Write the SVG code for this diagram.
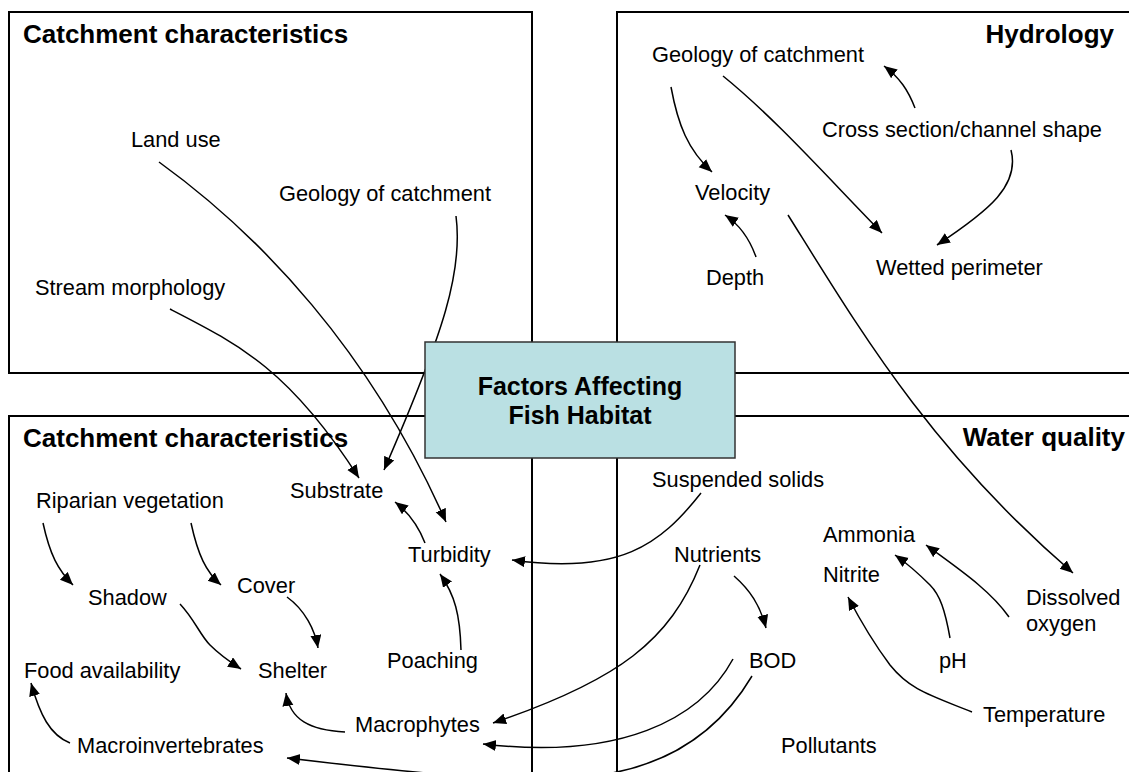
<svg xmlns="http://www.w3.org/2000/svg" width="1129" height="772" viewBox="0 0 1129 772">
<defs>
<marker id="ah" markerUnits="userSpaceOnUse" markerWidth="14" markerHeight="12" refX="13" refY="5.5" orient="auto">
<path d="M0,0 L13,5.5 L0,11 z" fill="#000"/>
</marker>
<style>
.box{fill:#fff;stroke:#000;stroke-width:2}
.hub{fill:#bae0e3;stroke:#333;stroke-width:1.5}
.t{font-family:"Liberation Sans",Arial,sans-serif;font-size:21.8px;fill:#000}
.b{font-family:"Liberation Sans",Arial,sans-serif;font-size:26px;font-weight:bold;fill:#000}
.hb{font-family:"Liberation Sans",Arial,sans-serif;font-size:25px;font-weight:bold;fill:#000;text-anchor:middle}
.c path{fill:none;stroke:#000;stroke-width:1.5;marker-end:url(#ah)}
</style>
</defs>
<rect width="1129" height="772" fill="#fff"/>
<g id="panel-catchment-top">
<rect class="box" x="9" y="12" width="523" height="361"/>
<text class="b" x="23" y="43">Catchment characteristics</text>
</g>
<g id="panel-hydrology">
<rect class="box" x="617" y="12" width="530" height="361"/>
<text class="b" x="1114" y="43" text-anchor="end">Hydrology</text>
</g>
<g id="panel-catchment-bottom">
<rect class="box" x="9" y="416" width="523" height="380"/>
<text class="b" x="23" y="447">Catchment characteristics</text>
</g>
<g id="panel-water-quality">
<rect class="box" x="617" y="416" width="530" height="380"/>
<text class="b" x="1125" y="446" text-anchor="end">Water quality</text>
</g>
<g id="connectors" class="c">
<path d="M159,162 C260,235 370,350 446,522"/>
<path d="M456,216 C463,270 445,330 384,470"/>
<path d="M170,309 C240,345 290,370 359,478"/>
<path d="M671,87 C678,125 688,150 712,172"/>
<path d="M723,76 C775,118 830,180 882,233"/>
<path d="M915,108 C908,90 900,78 884,66"/>
<path d="M1011,150 C1020,185 990,210 937,245"/>
<path d="M756,257 C750,240 740,225 725,215"/>
<path d="M788,215 C860,330 930,450 1073,573"/>
<path d="M425,543 C418,525 408,512 395,502"/>
<path d="M461,650 C460,615 455,595 440,574"/>
<path d="M701,493 C660,545 620,575 512,560"/>
<path d="M43,523 C50,555 58,570 73,585"/>
<path d="M191,523 C198,555 206,572 221,585"/>
<path d="M287,597 C305,610 315,630 318,648"/>
<path d="M180,604 C195,620 200,635 210,645 C220,655 230,662 241,669"/>
<path d="M345,732 C310,730 290,720 286,693"/>
<path d="M70,743 C50,735 40,715 31,683"/>
<path d="M700,565 C670,640 620,680 493,723"/>
<path d="M733,659 C700,720 620,760 483,744"/>
<path d="M752,676 C720,730 670,765 600,775 C530,785 430,775 287,758"/>
<path d="M734,576 C750,590 760,605 766,628"/>
<path d="M950,638 C945,610 940,595 930,585 C915,570 905,562 895,555"/>
<path d="M1009,617 C990,590 960,570 926,545"/>
<path d="M972,712 C930,695 910,690 890,665 C875,645 860,620 848,597"/>
</g>
<g id="hub">
<rect class="hub" x="425" y="342" width="310" height="116"/>
<text class="hb" x="580" y="395">Factors Affecting</text>
<text class="hb" x="580" y="424">Fish Habitat</text>
</g>
<g id="n-land-use"><text class="t" x="131" y="147">Land use</text></g>
<g id="n-geology-tl"><text class="t" x="279" y="201">Geology of catchment</text></g>
<g id="n-stream-morphology"><text class="t" x="35" y="295">Stream morphology</text></g>
<g id="n-geology-tr"><text class="t" x="652" y="62">Geology of catchment</text></g>
<g id="n-cross-section"><text class="t" x="822" y="137">Cross section/channel shape</text></g>
<g id="n-velocity"><text class="t" x="695" y="200">Velocity</text></g>
<g id="n-depth"><text class="t" x="706" y="285">Depth</text></g>
<g id="n-wetted-perimeter"><text class="t" x="876" y="275">Wetted perimeter</text></g>
<g id="n-substrate"><text class="t" x="290" y="498">Substrate</text></g>
<g id="n-riparian"><text class="t" x="36" y="508">Riparian vegetation</text></g>
<g id="n-turbidity"><text class="t" x="408" y="562">Turbidity</text></g>
<g id="n-shadow"><text class="t" x="88" y="605">Shadow</text></g>
<g id="n-cover"><text class="t" x="237" y="593">Cover</text></g>
<g id="n-food"><text class="t" x="24" y="678">Food availability</text></g>
<g id="n-shelter"><text class="t" x="258" y="678">Shelter</text></g>
<g id="n-poaching"><text class="t" x="387" y="668">Poaching</text></g>
<g id="n-macrophytes"><text class="t" x="355" y="732">Macrophytes</text></g>
<g id="n-macroinvertebrates"><text class="t" x="77" y="753">Macroinvertebrates</text></g>
<g id="n-suspended"><text class="t" x="652" y="487">Suspended solids</text></g>
<g id="n-nutrients"><text class="t" x="674" y="562">Nutrients</text></g>
<g id="n-ammonia"><text class="t" x="823" y="542">Ammonia</text></g>
<g id="n-nitrite"><text class="t" x="823" y="582">Nitrite</text></g>
<g id="n-dissolved-oxygen"><text class="t" x="1026" y="605">Dissolved</text><text class="t" x="1026" y="631">oxygen</text></g>
<g id="n-bod"><text class="t" x="749" y="668">BOD</text></g>
<g id="n-ph"><text class="t" x="939" y="668">pH</text></g>
<g id="n-temperature"><text class="t" x="983" y="722">Temperature</text></g>
<g id="n-pollutants"><text class="t" x="781" y="753">Pollutants</text></g>
</svg>
